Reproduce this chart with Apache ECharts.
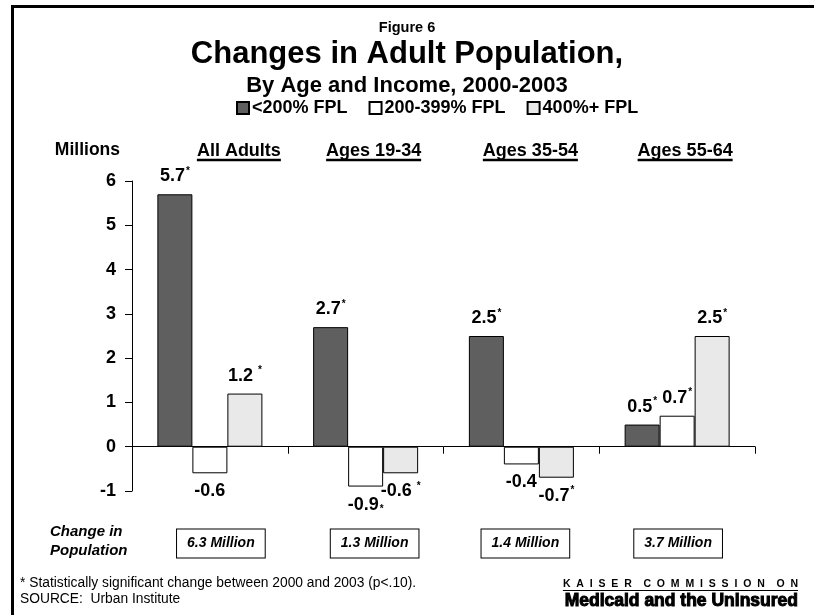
<!DOCTYPE html>
<html><head><meta charset="utf-8">
<script src="https://cdn.jsdelivr.net/npm/echarts@6/dist/echarts.min.js"></script>
<style>html,body{margin:0;padding:0;background:#fff}#c{width:814px;height:615px}</style>
</head><body><div id="c"></div>
<script>
// ---- data ----
const categories = ['All Adults', 'Ages 19-34', 'Ages 35-54', 'Ages 55-64'];
const seriesNames = ['<200% FPL', '200-399% FPL', '400%+ FPL'];
const below200 = [5.7, 2.7, 2.5, 0.5];
const fpl200to399 = [-0.6, -0.9, -0.4, 0.7];
const fpl400plus = [1.2, -0.6, -0.7, 2.5];
// significance marker per bar: 'sup' = raised asterisk, 'supw' = raised asterisk after a space,
// 'sub' = low asterisk, '' = none
const below200Sig = ['sup', 'sup', 'sup', 'sup'];
const fpl200to399Sig = ['', 'sub', '', 'sup'];
const fpl400plusSig = ['supw', 'supw', 'sup', 'sup'];
const populationChange = ['6.3 Million', '1.3 Million', '1.4 Million', '3.7 Million'];
const yMin = -1, yMax = 6, yStep = 1;

// ---- style / layout constants ----
const F = '"Liberation Sans", Arial, Helvetica, sans-serif';
const colors = ['#5f5f5f', '#ffffff', '#e9e9e9'];
const HEAD_SHIFT = [29, 8, 9, 8];
const BOX_SHIFT = [11, 9, 4, 1];

const chart = echarts.init(document.getElementById('c'), null, {renderer: 'canvas'});

const starBase = {fontFamily: F, fontWeight: 'bold', fontSize: 10, color: '#000', lineHeight: 10};
function makeSeries(name, values, sig, color) {
  return {
    name: name,
    type: 'bar',
    barWidth: 35,
    barGap: '0%',
    itemStyle: {color: color, borderColor: '#000', borderWidth: 1},
    label: {
      show: true,
      distance: 8,
      rich: {
        v: {fontFamily: F, fontWeight: 'bold', fontSize: 18, color: '#000', lineHeight: 20},
        sup: Object.assign({}, starBase, {verticalAlign: 'top', padding: [0, 0, 0, 1]}),
        supw: Object.assign({}, starBase, {verticalAlign: 'top', padding: [0, 0, 0, 5]}),
        sub: Object.assign({}, starBase, {verticalAlign: 'bottom', padding: [0, 0, 0, 1]})
      }
    },
    data: values.map(function (v, i) {
      return {
        value: v,
        label: {
          position: v < 0 ? 'bottom' : 'top',
          formatter: '{v|' + v + '}' + (sig[i] ? '{' + sig[i] + '|*}' : '')
        }
      };
    })
  };
}

const boxRich = {
  b: {
    fontFamily: F, fontStyle: 'italic', fontWeight: 'bold', fontSize: 14, color: '#000',
    lineHeight: 15, backgroundColor: '#fff', borderColor: '#000', borderWidth: 1,
    padding: [7, 10, 7, 10]
  }
};
BOX_SHIFT.forEach(function (s, i) { boxRich['p' + i] = {width: 2 * s, fontSize: 1}; });

const titlePad = [5, 5, 5, 21];
const option = {
  animation: false,
  backgroundColor: '#fff',
  textStyle: {fontFamily: F},
  title: [
    {text: 'Figure 6', left: 'center', top: 15, padding: titlePad, textStyle: {fontFamily: F, fontWeight: 'bold', fontSize: 14.5, color: '#000'}},
    {text: 'Changes in Adult Population,', left: 'center', top: 34, padding: titlePad, textStyle: {fontFamily: F, fontWeight: 'bold', fontSize: 31, color: '#000'}},
    {text: 'By Age and Income, 2000-2003', left: 'center', top: 70, padding: titlePad, textStyle: {fontFamily: F, fontWeight: 'bold', fontSize: 22, color: '#000'}}
  ],
  legend: {
    data: seriesNames,
    left: 231,
    top: 94,
    icon: 'rect',
    itemWidth: 12,
    itemHeight: 12,
    itemGap: 21,
    textStyle: {fontFamily: F, fontWeight: 'bold', fontSize: 18, color: '#000', padding: [0, 0, 0, -2]}
  },
  grid: {left: 132, right: 59, top: 181, bottom: 124},
  xAxis: [
    {
      type: 'category',
      data: categories,
      position: 'bottom',
      axisLine: {onZero: true, lineStyle: {color: '#000', width: 1}},
      axisTick: {show: true, length: 7, interval: 0, lineStyle: {color: '#000'}},
      axisLabel: {show: false},
      splitLine: {show: false}
    },
    {
      type: 'category',
      data: categories,
      position: 'bottom',
      axisLine: {show: false, onZero: false},
      axisTick: {show: false},
      axisLabel: {
        show: true,
        interval: 0,
        margin: 45,
        formatter: function (val, idx) { return '{p' + idx + '| }{b|' + populationChange[idx] + '}'; },
        rich: boxRich
      }
    }
  ],
  yAxis: {
    type: 'value',
    min: yMin,
    max: yMax,
    interval: yStep,
    name: 'Millions',
    nameLocation: 'end',
    nameGap: 22,
    nameTextStyle: {fontFamily: F, fontWeight: 'bold', fontSize: 17.5, color: '#000', align: 'right', padding: [0, 12, 0, 0]},
    axisLine: {show: true, lineStyle: {color: '#000', width: 1}},
    axisTick: {show: true, length: 7, lineStyle: {color: '#000'}},
    axisLabel: {fontFamily: F, fontWeight: 'bold', fontSize: 18, color: '#000', margin: 16},
    splitLine: {show: false}
  },
  series: [
    makeSeries(seriesNames[0], below200, below200Sig, colors[0]),
    makeSeries(seriesNames[1], fpl200to399, fpl200to399Sig, colors[1]),
    makeSeries(seriesNames[2], fpl400plus, fpl400plusSig, colors[2])
  ]
};
chart.setOption(option);

// ---- decorations: frame, category headers with underline, notes ----
const ctx = document.createElement('canvas').getContext('2d');
const headFont = 'bold 18px ' + F;
ctx.font = headFont;
const graphics = [
  {type: 'rect', shape: {x: 11, y: 5, width: 803, height: 3}, style: {fill: '#000'}, silent: true},
  {type: 'rect', shape: {x: 11, y: 5, width: 3, height: 615}, style: {fill: '#000'}, silent: true}
];
categories.forEach(function (c, i) {
  const cx = chart.convertToPixel({xAxisIndex: 0}, c) + HEAD_SHIFT[i];
  const w = ctx.measureText(c).width;
  graphics.push({type: 'text', x: cx, y: 151, style: {text: c, font: headFont, fill: '#000', align: 'center', verticalAlign: 'middle'}, silent: true});
  graphics.push({type: 'line', shape: {x1: cx - w / 2, y1: 160, x2: cx + w / 2, y2: 160}, style: {stroke: '#000', lineWidth: 2.5}, silent: true});
});
const popFont = 'italic bold 15px ' + F;
graphics.push({type: 'text', x: 50, y: 532, style: {text: 'Change in', font: popFont, fill: '#000', verticalAlign: 'middle'}, silent: true});
graphics.push({type: 'text', x: 50, y: 551, style: {text: 'Population', font: popFont, fill: '#000', verticalAlign: 'middle'}, silent: true});
graphics.push({type: 'text', x: 20, y: 583, style: {text: '* Statistically significant change between 2000 and 2003 (p<.10).', font: '13.8px ' + F, fill: '#000', verticalAlign: 'middle'}, silent: true});
graphics.push({type: 'text', x: 20, y: 599, style: {text: 'SOURCE:  Urban Institute', font: '13.8px ' + F, fill: '#000', verticalAlign: 'middle'}, silent: true});
const kFont = 'bold 10.5px ' + F;
const kText = 'K  A  I  S  E  R    C  O  M  M  I  S  S  I  O  N    O  N';
ctx.font = kFont;
const kw = ctx.measureText(kText).width;
graphics.push({type: 'text', x: 798, y: 584, style: {text: kText, font: kFont, fill: '#000', align: 'right', verticalAlign: 'middle'}, silent: true});
graphics.push({type: 'line', shape: {x1: 798 - kw, y1: 590.5, x2: 798, y2: 590.5}, style: {stroke: '#000', lineWidth: 1.2}, silent: true});
graphics.push({type: 'text', x: 798, y: 601, style: {text: 'Medicaid and the Uninsured', font: 'bold 17.5px ' + F, fill: '#000', stroke: '#000', lineWidth: 1, align: 'right', verticalAlign: 'middle'}, silent: true});
chart.setOption({graphic: graphics});
</script>
</body></html>
